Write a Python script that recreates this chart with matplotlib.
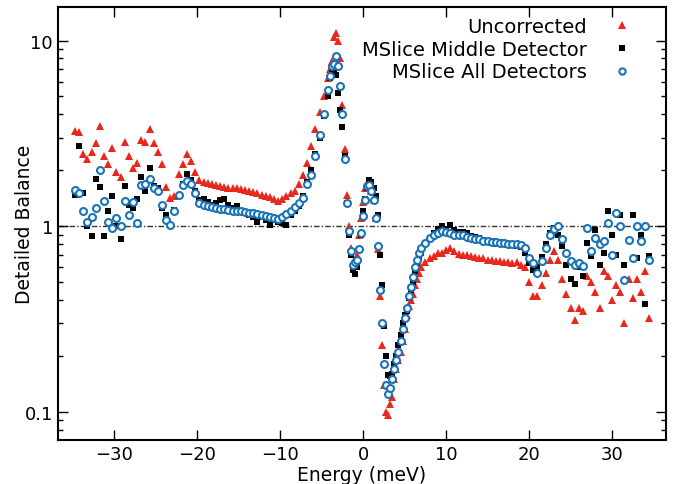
import matplotlib
matplotlib.use("Agg")
import matplotlib.pyplot as plt
from matplotlib import ticker

# energy bins (meV): coarse outside, finer round the elastic line
energy = [
    -34.75, -34.25, -33.75, -33.25, -32.75, -32.25, -31.75, -31.25, -30.75, -30.25,
    -29.75, -29.25, -28.75, -28.25, -27.75, -27.25, -26.75, -26.25, -25.75, -25.25,
    -24.75, -24.25, -23.75, -23.25, -22.75, -22.25, -21.75, -21.25, -20.75, -20.25,
    -19.75, -19.25, -18.75, -18.25, -17.75, -17.25, -16.75, -16.25, -15.75, -15.25,
    -14.75, -14.25, -13.75, -13.25, -12.75, -12.25, -11.75, -11.25, -10.75, -10.25,
    -9.75, -9.25, -8.75, -8.25, -7.75, -7.25, -6.75, -6.25, -5.75, -5.25,
    -4.75, -4.25,
    -4.0, -3.75, -3.5, -3.25, -3.0, -2.75, -2.5, -2.25, -2.0, -1.75,
    -1.5, -1.25, -1.0, -0.75, -0.5, -0.25, 0.0, 0.25, 0.5, 0.75,
    1.0, 1.25, 1.5, 1.75, 2.0, 2.25, 2.5, 2.75, 3.0, 3.25,
    3.5, 3.75, 4.0, 4.25, 4.5, 4.75, 5.0, 5.25, 5.5, 5.75,
    6.0, 6.25, 6.5, 6.75, 7.0,
    7.5, 8.0, 8.5, 9.0, 9.5, 10.0, 10.5, 11.0, 11.5, 12.0,
    12.5, 13.0, 13.5, 14.0, 14.5, 15.0, 15.5, 16.0, 16.5, 17.0,
    17.5, 18.0, 18.5, 19.0, 19.5, 20.0, 20.5, 21.0, 21.5, 22.0,
    22.5, 23.0, 23.5, 24.0, 24.5, 25.0, 25.5, 26.0, 26.5, 27.0,
    27.5, 28.0, 28.5, 29.0, 29.5, 30.0, 30.5, 31.0, 31.5, 32.0,
    32.5, 33.0, 33.5, 34.0, 34.5,
]

uncorrected = [
    3.25, 3.2, 2.45, 2.3, 2.5, 2.8, 3.45, 2.4, 2.15, 2.65,
    1.95, 1.85, 2.85, 2.4, 2.05, 2.2, 2.9, 2.85, 3.35, 2.8,
    2.5, 2.15, 1.62, 1.42, 1.45, 1.9, 2.15, 2.45, 2.25, 1.95,
    1.77, 1.72, 1.7, 1.68, 1.66, 1.64, 1.63, 1.61, 1.6, 1.6,
    1.58, 1.56, 1.55, 1.52, 1.5, 1.48, 1.45, 1.43, 1.4, 1.36,
    1.4, 1.46, 1.5, 1.55, 1.68, 1.88, 2.2, 2.7, 3.35, 4.1,
    5.0, 6.3,
    7.0, 7.8, 10.5, 11.0, 10.0, 8.0, 4.5, 2.6, 1.47, 1.0,
    0.76, 0.63, 0.65, 0.7, 0.9, 1.1, 1.35, 1.6, 1.7, 1.75,
    1.55, 1.38, 1.1, 0.75, 0.42, 0.23, 0.14, 0.1, 0.096, 0.11,
    0.12, 0.15, 0.17, 0.19, 0.21, 0.24, 0.28, 0.33, 0.37, 0.4,
    0.43, 0.48, 0.52, 0.56, 0.6,
    0.64, 0.67, 0.69, 0.72, 0.72, 0.74, 0.76, 0.73, 0.71, 0.7,
    0.7, 0.69, 0.68, 0.67, 0.67, 0.66, 0.66, 0.65, 0.65, 0.64,
    0.64, 0.63, 0.64, 0.62, 0.6, 0.5, 0.42, 0.42, 0.48, 0.56,
    0.66, 0.73, 0.66, 0.52, 0.43, 0.36, 0.31, 0.36, 0.35, 0.54,
    0.5, 0.44, 0.36, 0.57, 0.54, 0.4, 0.48, 0.44, 0.3, 0.52,
    0.41, 0.52, 0.44, 0.57, 0.32,
]

middle_det = [
    1.47, 2.7, 1.5, 1.0, 0.88, 1.8, 1.62, 0.88, 1.2, 1.45,
    1.0, 0.85, 1.64, 1.3, 1.25, 1.4, 1.85, 1.55, 2.05, 1.64,
    1.6, 1.25, 1.15, 1.02, 1.22, 1.45, 1.68, 1.9, 1.78, 1.55,
    1.38, 1.4, 1.35, 1.3, 1.33, 1.38, 1.4, 1.3, 1.25, 1.28,
    1.2, 1.18, 1.15, 1.12, 1.05, 1.12, 1.08, 1.02, 1.08, 1.05,
    1.04, 1.02, 1.15, 1.2, 1.28, 1.45, 1.72, 2.0, 2.45, 3.0,
    3.9, 5.0,
    6.3, 6.9, 6.8, 6.5, 5.2, 4.2, 3.4, 2.4, 1.33, 0.9,
    0.7, 0.58, 0.55, 0.6, 0.75, 0.89, 1.2, 1.4, 1.6, 1.77,
    1.72, 1.6, 1.45, 1.15, 0.7, 0.48, 0.29, 0.2, 0.157, 0.155,
    0.16, 0.18, 0.2, 0.23, 0.26, 0.3, 0.33, 0.35, 0.41, 0.45,
    0.5, 0.57, 0.63, 0.68, 0.72,
    0.8, 0.86, 0.92, 0.97, 1.0, 0.97, 1.01, 0.95, 0.93, 0.93,
    0.92, 0.88, 0.87, 0.86, 0.84, 0.82, 0.83, 0.8, 0.82, 0.8,
    0.79, 0.8, 0.78, 0.77, 0.72, 0.63, 0.58, 0.6, 0.68, 0.8,
    0.92, 0.98, 0.9, 0.78, 0.62, 0.52, 0.49, 0.6, 0.54, 0.81,
    0.69, 0.95, 0.62, 0.72, 1.2, 0.9, 0.7, 1.15, 0.62, 0.84,
    1.15, 0.67, 0.89, 0.38, 0.69,
]

all_det = [
    1.56, 1.5, 1.2, 1.05, 1.12, 1.25, 2.0, 1.36, 1.05, 0.98,
    1.1, 1.0, 1.36, 1.15, 1.35, 1.04, 1.66, 1.68, 1.8, 1.6,
    1.55, 1.3, 1.08, 1.02, 1.2, 1.47, 1.66, 1.75, 1.68, 1.5,
    1.33, 1.3, 1.28, 1.26, 1.25, 1.24, 1.23, 1.22, 1.21, 1.21,
    1.2, 1.19, 1.18, 1.17, 1.16, 1.15, 1.14, 1.12, 1.1, 1.09,
    1.12, 1.16, 1.2, 1.27, 1.33, 1.42, 1.68, 1.88, 2.4, 3.1,
    4.0, 5.4,
    6.4, 7.3, 7.5, 8.3, 7.3, 5.7, 4.0, 2.3, 1.33, 0.94,
    0.73, 0.62, 0.64, 0.66, 0.75, 0.92, 1.13, 1.38, 1.64, 1.66,
    1.55, 1.38, 1.1, 0.78, 0.45, 0.3, 0.18, 0.14, 0.125, 0.134,
    0.15, 0.17, 0.19, 0.21, 0.24, 0.28, 0.32, 0.36, 0.42, 0.47,
    0.53, 0.6, 0.66, 0.72, 0.76,
    0.81, 0.86, 0.9, 0.92, 0.94, 0.93, 0.92, 0.9, 0.89, 0.89,
    0.87, 0.86, 0.85, 0.85, 0.83, 0.83, 0.82, 0.82, 0.81, 0.81,
    0.8, 0.8, 0.8, 0.79, 0.76, 0.67, 0.63, 0.56, 0.65, 0.76,
    0.89, 0.97, 1.0, 0.85, 0.72, 0.65, 0.62, 0.63, 0.61, 0.98,
    0.73, 0.86, 0.8, 0.83, 1.04, 0.7, 1.17, 1.0, 0.51, 0.84,
    0.67, 1.0, 0.83, 1.0, 0.66,
]

series_labels = ["Uncorrected", "MSlice Middle Detector", "MSlice All Detectors"]

plt.rcParams['font.family'] = ['DejaVu Sans']
plt.rcParams['font.size'] = 13

fig = plt.figure(figsize=(6.74, 4.85), dpi=100)
ax = fig.add_axes([0.086, 0.091, 0.902, 0.893])

ax.axhline(1.0, color='#333333', linestyle=(0, (4, 1.5, 1, 1.5)), linewidth=1.0, zorder=1)

ax.plot(energy, uncorrected, linestyle='none', marker='^', markersize=6,
        color='#e8281c', markeredgewidth=0, label=series_labels[0], zorder=2)
ax.plot(energy, middle_det, linestyle='none', marker='s', markersize=5,
        color='black', markeredgewidth=0, label=series_labels[1], zorder=3)
ax.plot(energy, all_det, linestyle='none', marker='o', markersize=5,
        markerfacecolor='white', markeredgecolor='#1a74b5', markeredgewidth=1.5,
        label=series_labels[2], zorder=4)

ax.set_yscale('log')
ax.set_xlim(-36.8, 36.5)
ax.set_ylim(0.0705, 15.2)
ax.set_xticks([-30, -20, -10, 0, 10, 20, 30])
ax.set_yticks([0.1, 1, 10])
ax.yaxis.set_major_formatter(ticker.FormatStrFormatter('%g'))
ax.yaxis.set_minor_formatter(ticker.NullFormatter())

ax.tick_params(which='both', direction='in', top=True, right=True)
ax.tick_params(which='major', length=7, width=1)
ax.tick_params(which='minor', length=3.5, width=1)
ax.tick_params(axis='x', pad=4)
for sp in ax.spines.values():
    sp.set_linewidth(1.5)

ax.set_xlabel('Energy (meV)', fontsize=13.5)
ax.set_ylabel('Detailed Balance', fontsize=13.5)
ax.xaxis.set_label_coords(0.5, -0.058)
ax.yaxis.set_label_coords(-0.04, 0.5)

ax.legend(loc='upper right', bbox_to_anchor=(0.972, 0.995), borderaxespad=0,
          frameon=False, markerfirst=False, numpoints=1, fontsize=14,
          handletextpad=0.8, labelspacing=0.2, markerscale=0.9)

plt.savefig('out.png', dpi=100)
